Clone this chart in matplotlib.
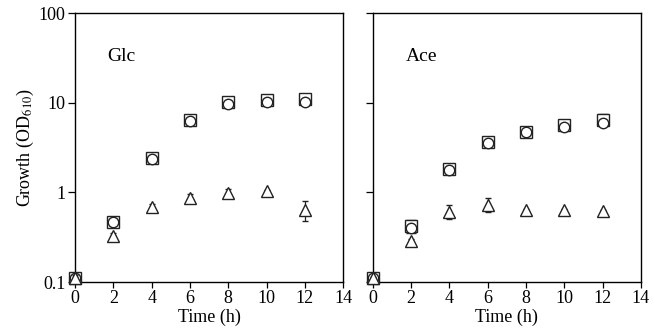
import matplotlib
matplotlib.use("Agg")
import matplotlib.pyplot as plt
from matplotlib.ticker import FixedLocator, NullLocator, FixedFormatter

plt.rcParams['font.family'] = ['Liberation Serif', 'DejaVu Serif']
plt.rcParams['mathtext.fontset'] = 'stix'

time = [0, 2, 4, 6, 8, 10, 12]

# Glc panel
glc_square = [0.11, 0.47, 2.4, 6.4, 10.2, 10.7, 11.0]
glc_square_err = [0.01, 0.03, 0.25, 0.4, 0.8, 1.3, 0.8]
glc_circle = [0.11, 0.47, 2.38, 6.3, 9.8, 10.1, 10.3]
glc_triangle = [0.11, 0.33, 0.685, 0.87, 0.99, 1.03, 0.64]
glc_triangle_err = [0.01, 0.02, 0.05, 0.1, 0.11, 0.03, 0.16]

# Ace panel
ace_square = [0.11, 0.42, 1.84, 3.65, 4.72, 5.6, 6.5]
ace_square_err = [0.01, 0.07, 0.1, 0.3, 0.3, 0.3, 0.9]
ace_circle = [0.11, 0.40, 1.76, 3.55, 4.7, 5.3, 5.95]
ace_triangle = [0.11, 0.29, 0.61, 0.73, 0.63, 0.64, 0.62]
ace_triangle_err = [0.005, 0.01, 0.11, 0.13, 0.02, 0.02, 0.02]

panel_labels = ["Glc", "Ace"]
xticks = [0, 2, 4, 6, 8, 10, 12, 14]
yticks = [0.1, 1, 10, 100]
ytick_labels = ["0.1", "1", "10", "100"]

fig = plt.figure(figsize=(6.54, 3.35), dpi=100)
ax1 = fig.add_axes([0.1147, 0.158, 0.41, 0.803])
ax2 = fig.add_axes([0.570, 0.158, 0.41, 0.803])

datasets = [
    (glc_square, glc_square_err, glc_circle, glc_triangle, glc_triangle_err),
    (ace_square, ace_square_err, ace_circle, ace_triangle, ace_triangle_err),
]

for i, (ax, ds) in enumerate(zip([ax1, ax2], datasets)):
    sq, sqe, ci, tr, tre = ds
    e1 = ax.errorbar(time, sq, yerr=sqe, fmt='s', ms=8.5, mfc='white', mec='#222222',
                     mew=1.0, ecolor='#222222', elinewidth=0.9, capsize=3.5, capthick=0.9, zorder=2)
    ln = ax.plot(time, ci, 'o', ms=7.5, mfc='white', mec='#222222', mew=1.0, zorder=3)
    e2 = ax.errorbar(time, tr, yerr=tre, fmt='^', ms=9, mfc='white', mec='#222222',
                     mew=1.0, ecolor='#222222', elinewidth=0.9, capsize=2.5, capthick=0.9, zorder=4)
    for art in list(e1.lines[0:1]) + list(e1.lines[1]) + list(e1.lines[2]) + \
               list(e2.lines[0:1]) + list(e2.lines[1]) + list(e2.lines[2]) + ln:
        art.set_clip_on(False)
    ax.set_yscale('log')
    ax.set_ylim(0.1, 100)
    ax.set_xlim(0, 14)
    ax.xaxis.set_major_locator(FixedLocator(xticks))
    ax.yaxis.set_major_locator(FixedLocator(yticks))
    ax.yaxis.set_minor_locator(NullLocator())
    if i == 0:
        ax.yaxis.set_major_formatter(FixedFormatter(ytick_labels))
        ax.set_ylabel('Growth (OD$_{610}$)', fontsize=13, labelpad=2)
    else:
        ax.set_yticklabels([])
    ax.tick_params(axis='x', direction='out', length=4, width=0.9, labelsize=13, pad=2)
    ax.tick_params(axis='y', direction='out', length=5, width=0.9, labelsize=13, pad=2)
    for s in ax.spines.values():
        s.set_linewidth(1.0)
        s.set_zorder(1)
    ax.set_xlabel('Time (h)', fontsize=13, labelpad=1)
    ax.text(1.7, 33, panel_labels[i], fontsize=14, va='center')

fig.savefig('out.png', dpi=100)
